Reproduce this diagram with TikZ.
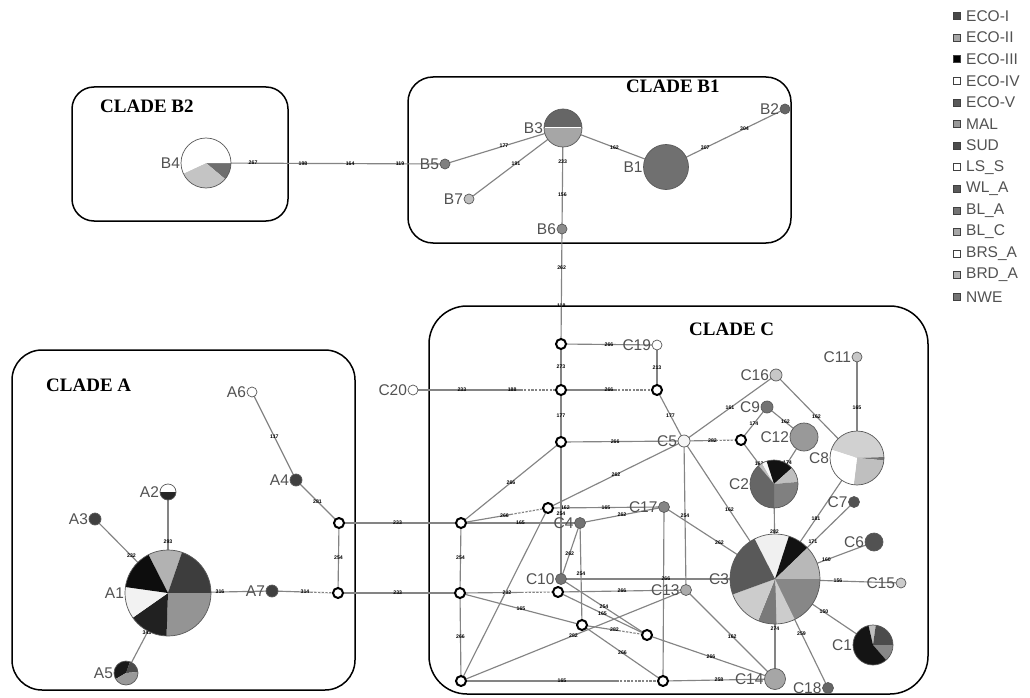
\documentclass[tikz,border=0pt]{standalone}
\usepackage{fontspec}
\setmainfont{Liberation Serif}
\newfontfamily\arialf{Liberation Sans}
\usetikzlibrary{backgrounds}
\definecolor{edgec}{HTML}{848484}
\newcommand{\hnode}[6]{\node[hap, fill=#5, minimum size={2*#4pt}, label={[nl]left:#6}] (#1) at (#2,#3) {};}
\newcommand{\pnode}[6]{%
  \foreach \sa/\sb/\sc in {#5}{\fill[\sc] (#2,#3) -- ++(\sa:#4) arc[start angle=\sa,end angle=\sb,radius=#4] -- cycle;}
  \node[hap, minimum size={2*#4pt}, label={[nl]left:#6}] (#1) at (#2,#3) {};}
\begin{document}
\begin{tikzpicture}[x=1pt,y=-1pt,
  cladebox/.style={draw=black, line width=1.5pt, rounded corners=#1},
  edge/.style={draw=edgec, line width=1.15pt},
  gapd/.style={draw=white, line width=1.7pt, dash pattern=on 1.3pt off 2.4pt},
  el/.style={font=\arialf\bfseries\fontsize{5.2}{5.2}\selectfont, inner sep=0.2pt, text=black},
  mv/.style={circle, draw=black, line width=2pt, fill=white, minimum size=10pt, inner sep=0pt},
  hap/.style={circle, draw=black!65, line width=0.7pt, inner sep=0pt},
  nl/.style={font=\arialf\fontsize{15.5}{15.5}\selectfont, text=black!68, inner sep=0.5pt},
  title/.style={font=\bfseries\fontsize{19}{19}\selectfont, inner sep=0pt, anchor=west},
  legt/.style={font=\arialf\fontsize{15.5}{15.5}\selectfont, text=black!68, anchor=west, inner sep=0pt},
  legs/.style={draw=black!75, line width=0.6pt, minimum size=7pt, inner sep=0pt}
]
\pgfdeclarelayer{background}\pgfsetlayers{background,main}
\useasboundingbox (0,0) rectangle (1030,698);

% titles
\node[title] (tB2) at (100,106) {CLADE B2};
\node[title] (tB1) at (626,86) {CLADE B1};
\node[title] (tC) at (689,329) {CLADE C};
\node[title] (tA) at (46,385) {CLADE A};

% ---- clade B
\pnode{B4}{206}{163}{25}{0/40/black!57, 40/155/black!23, 155/360/white}{B4}
\hnode{B5}{445}{164}{5}{black!50}{B5}
\pnode{B3}{563}{128}{19}{180/360/black!60, 0/180/black!35}{B3}
\draw[white, line width=1pt] ([xshift=1pt]B3.west) -- ([xshift=-1pt]B3.east);
\hnode{B1}{666}{167}{22.5}{black!56}{B1}
\hnode{B2}{785}{109}{5}{black!60}{B2}
\hnode{B7}{469}{199}{5}{black!25}{B7}
\hnode{B6}{562}{229}{5}{black!45}{B6}

% ---- clade C
\node[mv] (N1) at (561,344) {};
\hnode{C19}{657}{345}{5}{white}{C19}
\node[mv] (N2) at (561,390) {};
\node[mv] (N3) at (657,390) {};
\hnode{C20}{413}{390}{5}{white}{C20}
\node[mv] (N4) at (561,442) {};
\hnode{C5}{684}{441}{6}{black!4}{C5}
\node[mv] (N5) at (741,440) {};
\hnode{C16}{776}{375}{6}{black!22}{C16}
\hnode{C11}{857}{357}{5}{black!22}{C11}
\hnode{C9}{767}{407}{6}{black!55}{C9}
\hnode{C12}{804}{437}{14}{black!40}{C12}
\pnode{C8}{857}{458}{27}{198/358/black!18, 358/365/black!55, 365/457/black!25, 457/558/white}{C8}
\pnode{C2}{774}{484}{24}{230/240/black!25, 240/252/black!3, 252/318/black!93, 318/355/black!25, 355/450/black!50, 450/590/black!60}{C2}
\hnode{C7}{854}{502}{5.5}{black!68}{C7}
\pnode{C3}{775}{579}{45}{243/288/black!6, 288/316/black!93, 316/360/black!28, 360/424/black!47, 424/448/black!20, 448/472/black!52, 472/520/black!20, 520/603/black!65}{C3}
\hnode{C6}{874}{542}{9}{black!68}{C6}
\hnode{C15}{901}{583}{5}{black!20}{C15}
\pnode{C1}{873}{645}{20}{257/278/black!25, 278/360/black!70, 360/409/black!47, 409/617/black!92}{C1}
\hnode{C18}{828}{688}{5.5}{black!60}{C18}
\hnode{C14}{775}{679}{10.5}{black!35}{C14}
\hnode{C13}{686}{590}{5.5}{black!33}{C13}
\hnode{C17}{664}{507}{5.5}{black!48}{C17}
\hnode{C4}{580}{523}{5.5}{black!55}{C4}
\hnode{C10}{561}{579}{5.5}{black!55}{C10}
\node[mv] (N6) at (461,523) {};
\node[mv] (N7) at (548,508) {};
\node[mv] (N8) at (460,593) {};
\node[mv] (N9) at (558,592) {};
\node[mv] (N10) at (582,625) {};
\node[mv] (N11) at (647,635) {};
\node[mv] (N12) at (461,681) {};
\node[mv] (N13) at (663,681) {};

% ---- clade A
\pnode{A1}{168}{593}{43}{243/289/black!30, 289/360/black!76, 0/92/black!42, 92/145/black!87, 145/188/black!5, 188/243/black!95}{A1}
\pnode{A2}{168}{492}{8}{180/360/white, 0/180/black!85}{A2}
\hnode{A3}{95}{519}{6}{black!75}{A3}
\hnode{A4}{296}{480}{6}{black!75}{A4}
\pnode{A5}{126}{673}{12}{150/290/black!90, 290/355/black!70, 355/510/black!40}{A5}
\hnode{A6}{252}{392}{5}{white}{A6}
\hnode{A7}{272}{591}{6}{black!75}{A7}
\node[mv] (N14) at (339,523) {};
\node[mv] (N15) at (338,593) {};

% ---- legend
\foreach \t/\c [count=\i] in {ECO-I/black!72, ECO-II/black!35, ECO-III/black, ECO-IV/white, ECO-V/black!65, MAL/black!40, SUD/black!70, LS\_S/white, WL\_A/black!65, BL\_A/black!55, BL\_C/black!35, BRS\_A/white, BRD\_A/black!30, NWE/black!55}{
  \node[legs, fill=\c] (ls\i) at ({957},{16+21.6*(\i-1)}) {};
  \node[legt] (lt\i) at ({966},{16+21.6*(\i-1)}) {\t};
}

\begin{pgfonlayer}{background}
\fill[white] (0,0) rectangle (1030,698);
% boxes
\draw[cladebox=22pt] (72,87) rectangle (288,221);
\draw[cladebox=25pt] (408,77) rectangle (791,243);
\draw[cladebox=38pt] (429,306) rectangle (928,694);
\draw[cladebox=30pt] (12,350) rectangle (355,690);

% clade B edges
\draw[edge] (B4.center) -- node[el,pos=.197]{267} node[el,pos=.406]{198} node[el,pos=.603]{164} node[el,pos=.812]{119} (B5.center);
\draw[edge] (B5.center) -- node[el]{177} (B3.center);
\draw[edge] (B7.center) -- node[el]{191} (B3.center);
\draw[edge] (B3.center) -- node[el,pos=.33]{233} node[el,pos=.66]{156} (B6.center);
\draw[edge] (B3.center) -- node[el]{162} (B1.center);
\draw[edge] (B1.center) -- node[el,pos=.33]{307} node[el,pos=.66]{304} (B2.center);
\draw[edge] (B6.center) -- node[el,pos=.34]{262} node[el,pos=.67]{118} (N1.center);

% clade C edges
\draw[edge] (N1.center) -- node[el]{266} (C19.center);
\draw[edge] (N1.center) -- node[el]{273} (N2.center);
\draw[edge] (C19.center) -- node[el]{213} (N3.center);
\draw[edge] (C20.center) -- node[el,pos=.33]{233} node[el,pos=.67]{188} coordinate[pos=.74] (d1) (N2.center);
\draw[gapd] (d1) -- (N2.center);
\draw[edge] (N2.center) -- node[el]{266} coordinate[pos=.58] (d2) (N3.center);
\draw[gapd] (d2) -- (N3.center);
\draw[edge] (N2.center) -- node[el]{177} (N4.center);
\draw[edge] (N3.center) -- node[el]{177} (C5.center);
\draw[edge] (N4.center) -- node[el,pos=.44]{266} (C5.center);
\draw[edge] (C5.center) -- node[el]{282} coordinate[pos=.6] (d3) (N5.center);
\draw[gapd] (d3) -- (N5.center);
\draw[edge] (C5.center) -- node[el]{161} (C16.center);
\draw[edge] (N5.center) -- node[el]{174} (C9.center);
\draw[edge] (C9.center) -- node[el]{162} (C12.center);
\draw[edge] (C16.center) -- node[el]{162} (C8.center);
\draw[edge] (C11.center) -- node[el]{165} (C8.center);
\draw[edge] (N5.center) -- node[el,pos=.55]{162} (C2.center);
\draw[edge] (C12.center) -- node[el,pos=.55]{174} (C2.center);
\draw[edge] (C2.center) -- node[el]{282} (C3.center);
\draw[edge] (C5.center) -- node[el]{162} (C3.center);
\draw[edge] (C8.center) -- node[el]{181} (C3.center);
\draw[edge] (C7.center) -- node[el,pos=.52]{171} (C3.center);
\draw[edge] (C6.center) -- node[el,pos=.48]{160} (C3.center);
\draw[edge] (C15.center) -- node[el]{156} (C3.center);
\draw[edge] (C1.center) -- node[el]{150} (C3.center);
\draw[edge] (C18.center) -- node[el]{259} (C3.center);
\draw[edge] (C14.center) -- node[el]{274} (C3.center);
\draw[edge] (C13.center) -- node[el,pos=.52]{162} (C14.center);
\draw[edge] (N11.center) -- node[el]{266} (C14.center);
\draw[edge] (N13.center) -- node[el]{258} (C14.center);
\draw[edge] (C17.center) -- node[el]{262} (C3.center);
\draw[edge] (C5.center) -- node[el]{254} (C13.center);
\draw[edge] (C17.center) -- (N13.center);
\draw[edge] (C10.center) -- node[el,pos=.49]{266} (C3.center);
\draw[edge] (N9.center) -- node[el]{266} (C13.center);
\draw[edge] (N8.center) -- node[el,pos=.48]{282} coordinate[pos=.65] (d4) (N9.center);
\draw[gapd] (d4) -- (N9.center);
\draw[edge] (N6.center) -- node[el]{254} (N8.center);
\draw[edge] (N8.center) -- node[el]{266} (N12.center);
\draw[edge] (N12.center) -- node[el]{165} coordinate[pos=.78] (d5) (N13.center);
\draw[gapd] (d5) -- (N13.center);
\draw[edge] (N6.center) -- node[el,pos=.52]{233} (N14.center);
\draw[edge] (N8.center) -- node[el,pos=.51]{233} (N15.center);
\draw[edge] (N6.center) -- node[el]{266} (N4.center);
\draw[edge] (N6.center) -- node[el]{266} coordinate[pos=.6] (d6) (N7.center);
\draw[gapd] (d6) -- (N7.center);
\draw[edge] (N6.center) -- node[el]{165} (C4.center);
\draw[edge] (N7.center) -- node[el,pos=.15]{162} node[el]{165} (C17.center);
\draw[edge] (N7.center) -- node[el]{262} (C5.center);
\draw[edge] (C4.center) -- node[el]{262} (C17.center);
\draw[edge, line width=1.8pt] (N4.center) -- node[el,pos=.52]{254} (C10.center);
\draw[edge] (C4.center) -- node[el,pos=.54]{262} (C10.center);
\draw[edge] (C4.center) -- node[el]{254} (N10.center);
\draw[edge] (N7.center) -- (N12.center);
\draw[edge] (N8.center) -- node[el]{165} (N10.center);
\draw[edge] (N12.center) -- node[el]{282} (C13.center);
\draw[edge] (N10.center) -- node[el]{282} coordinate[pos=.6] (d7) (N11.center);
\draw[gapd] (d7) -- (N11.center);
\draw[edge] (N10.center) -- node[el]{266} (N13.center);
\draw[edge] (C10.center) -- node[el]{254} (N11.center);
\draw[edge] (N9.center) -- node[el]{165} (N11.center);

% clade A edges
\draw[edge] (A1.center) -- node[el,pos=.51]{293} (A2.center);
\draw[edge] (A1.center) -- node[el]{232} (A3.center);
\draw[edge] (A1.center) -- node[el]{343} (A5.center);
\draw[edge] (A1.center) -- node[el]{316} (A7.center);
\draw[edge] (A7.center) -- node[el]{314} coordinate[pos=.62] (d8) (N15.center);
\draw[gapd] (d8) -- (N15.center);
\draw[edge] (A6.center) -- node[el,pos=.51]{117} (A4.center);
\draw[edge] (A4.center) -- node[el]{281} (N14.center);
\draw[edge] (N14.center) -- node[el]{254} (N15.center);
\end{pgfonlayer}
\end{tikzpicture}
\end{document}
